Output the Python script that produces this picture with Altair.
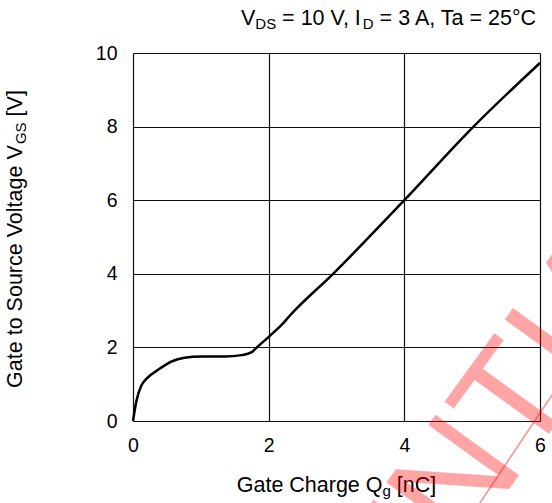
import altair as alt
import pandas as pd

# ---- data ----
qg = [0, 0.05, 0.12, 0.2, 0.37, 0.56, 0.76, 1.0, 1.35, 1.6, 1.75, 1.82, 2.01, 2.2, 2.31, 2.95, 4.0, 5.02, 6.0]
vgs = [0, 0.54, 0.95, 1.15, 1.39, 1.61, 1.72, 1.75, 1.75, 1.79, 1.87, 1.99, 2.3, 2.63, 2.86, 4.0, 6.0, 8.0, 9.73]
x_ticks = [0, 2, 4, 6]
y_ticks = [0, 2, 4, 6, 8, 10]

title_parts = [("V", False), ("DS", True), (" = 10 V, I", False), ("D", True), (" = 3 A, Ta = 25°C", False)]
ytitle_parts = [("Gate to Source Voltage V", False), ("GS", True), (" [V]", False)]
xtitle_parts = [("Gate Charge Q", False), ("g", True), (" [nC]", False)]
watermark = "CONFIDENTIAL"

df = pd.DataFrame({"qg": qg, "vgs": vgs})

W, H = 407, 368
PAD_L, PAD_T = 133, 53
FONT = "Liberation Sans"
F_MAIN = 21.5
F_SUB = 15
SUB_SHIFT = 4

# Arial / Liberation Sans advance widths (per 1000 em)
AW = {" ": 278, "=": 584, "0": 556, "1": 556, "2": 556, "3": 556, "5": 556, ",": 278,
      "V": 667, "I": 278, "A": 667, "T": 611, "a": 556, "°": 400, "C": 722, "D": 722,
      "S": 667, "G": 778, "s": 500, "g": 556, "n": 556, "[": 278, "]": 278, "Q": 778,
      "e": 556, "t": 278, "o": 556, "u": 556, "r": 333, "c": 500, "h": 556, "l": 222}


def tw(s, size):
    return sum(AW.get(ch, 556) for ch in s) / 1000.0 * size


def one():
    return alt.Data(values=[{}])


def pieces(parts):
    """Split into (text_without_edge_spaces, offset_of_text, full_width, size, sub)."""
    out = []
    for s, sub in parts:
        size = F_SUB if sub else F_MAIN
        lead = len(s) - len(s.lstrip(" "))
        out.append((s.strip(" "), tw(s[:lead], size), tw(s, size), size, sub))
    return out


layers = []

base = alt.Chart(df).mark_line(color="black", strokeWidth=2.5, interpolate="monotone").encode(
    x=alt.X("qg:Q", scale=alt.Scale(domain=[0, 6], nice=False, zero=False),
            axis=alt.Axis(values=x_ticks, title=None, grid=True, ticks=False, tickSize=0,
                          domain=False, labelPadding=15, labelFontSize=19.5,
                          labelFont=FONT, labelColor="black", gridColor="#111",
                          gridWidth=1.2, labelFlush=False)),
    y=alt.Y("vgs:Q", scale=alt.Scale(domain=[0, 10], nice=False, zero=False),
            axis=alt.Axis(values=y_ticks, title=None, grid=True, ticks=False, tickSize=0,
                          domain=False, labelPadding=16, labelFontSize=19.5,
                          labelFont=FONT, labelColor="black", gridColor="#111",
                          gridWidth=1.2, labelFlush=False)),
)
layers.append(base)

# ---- top condition title (right aligned to plot edge) ----
pp = pieces(title_parts)
xpos = W - sum(p[2] for p in pp)
for txt, off, full, size, sub in pp:
    layers.append(alt.Chart(one()).mark_text(
        align="left", baseline="alphabetic", font=FONT, fontSize=size, color="black").encode(
        x=alt.value(xpos + off), y=alt.value(-28 + (SUB_SHIFT if sub else 0)), text=alt.value(txt)))
    xpos += full

# ---- x axis title ----
pp = pieces(xtitle_parts)
xpos = W / 2 - sum(p[2] for p in pp) / 2
for txt, off, full, size, sub in pp:
    layers.append(alt.Chart(one()).mark_text(
        align="left", baseline="alphabetic", font=FONT, fontSize=size, color="black").encode(
        x=alt.value(xpos + off), y=alt.value(439 + (SUB_SHIFT if sub else 0)), text=alt.value(txt)))
    xpos += full

# ---- y axis title (rotated) ----
pp = pieces(ytitle_parts)
ypos = H / 2 + sum(p[2] for p in pp) / 2 + 2
for txt, off, full, size, sub in pp:
    layers.append(alt.Chart(one()).mark_text(
        align="left", baseline="alphabetic", font=FONT, fontSize=size, color="black", angle=270).encode(
        x=alt.value(-111 + (SUB_SHIFT if sub else 0)), y=alt.value(ypos - off), text=alt.value(txt)))
    ypos -= full

# ---- watermark ----
layers.append(alt.Chart(one()).mark_text(
    align="center", baseline="alphabetic", font=FONT, fontSize=150, color="#ff0000",
    opacity=0.35, angle=306).encode(
    x=alt.value(256), y=alt.value(601), text=alt.value(watermark)))
layers.append(alt.Chart(one()).mark_rule(color="#ff0000", opacity=0.45, strokeWidth=1.5).encode(
    x=alt.value(300), y=alt.value(520), x2=alt.value(470), y2=alt.value(266)))

chart = alt.layer(*layers).properties(
    width=W, height=H,
    autosize=alt.AutoSizeParams(type="none"),
    padding={"left": PAD_L, "top": PAD_T, "right": 552 - PAD_L - W, "bottom": 503 - PAD_T - H},
).configure_view(stroke="black", strokeWidth=2.5).configure(background="white")

chart.save("out.html", embed_options={"renderer": "svg", "actions": False})
